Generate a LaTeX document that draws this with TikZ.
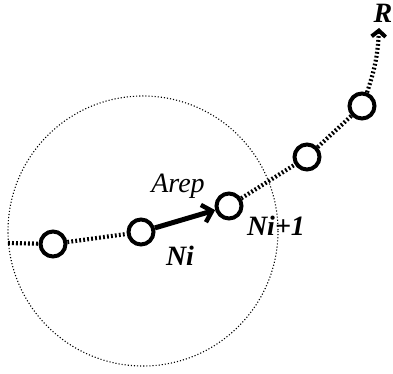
\documentclass[tikz,border=0pt]{standalone}
\usepackage{fontspec}
\setmainfont{Liberation Serif}
\usetikzlibrary{arrows.meta}
\tikzset{
  agent/.style={draw,circle,line width=4pt,minimum size=25pt,inner sep=0pt},
  chain/.style={line width=4.2pt,dash pattern=on 1.8pt off 2.2pt},
  lbl/.style={font=\fontsize{28}{28}\selectfont\bfseries\itshape}
}
\begin{document}
\begin{tikzpicture}[x=1pt,y=-1pt]
    \useasboundingbox (0,0) rectangle (393,374);
    % --- repulsion range ---
    \draw[line width=1.1pt,dotted] (143,231) circle[radius=135];
    % --- the agents ---
    \node[agent] (n0) at (53,244) {};
    \node[agent] (n1) at (141,232) {};
    \node[agent] (n2) at (229,206) {};
    \node[agent] (n3) at (307,157) {};
    \node[agent] (n4) at (362,106) {};
    \coordinate (start) at (8,243);
    \coordinate (goal) at (379,28);
    % --- chain towards the goal ---
    \draw[chain] (start) -- (n0);
    \draw[chain] (n0) -- (n1);
    \draw[chain] (n2) -- (n3);
    \draw[chain] (n3) -- (n4);
    \draw[chain,-{Straight Barb[length=6pt,width=14pt,line width=4pt]}] (n4) to[bend right=8] (goal);
    % --- repulsive force ---
    \draw[line width=5pt,-{Straight Barb[length=9pt,width=18pt,line width=4.5pt]}] (n1) -- (n2);
    % --- labels ---
    \node[lbl] (lr) at (383,13) {R};
    \node[font=\fontsize{28}{28}\selectfont\itshape] (la) at (178,186) {Arep};
    \node[lbl] (li) at (180,256) {Ni};
    \node[lbl] (li1) at (276,226) {Ni+1};
  \end{tikzpicture}
\end{document}
